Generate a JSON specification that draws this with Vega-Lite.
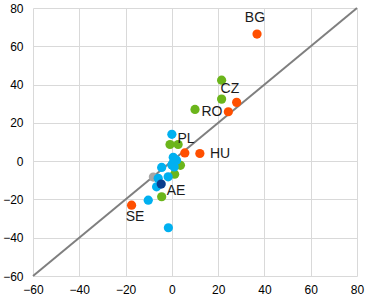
{
  "$schema": "https://vega.github.io/schema/vega-lite/v6.json",
  "width": 324,
  "height": 268,
  "autosize": {"type": "none"},
  "padding": {"left": 33, "top": 8, "right": 31, "bottom": 26},
  "background": "white",
  "config": {
    "view": {"stroke": null},
    "font": "Liberation Sans",
    "axis": {
      "grid": true, "gridColor": "#d9d9d9", "gridWidth": 1, "domain": false, "ticks": false,
      "labelFont": "Liberation Sans", "labelFontSize": 12, "labelColor": "#000000", "title": null,
      "labelOverlap": false, "labelFlush": false, "labelBound": false
    }
  },
  "datasets": {
    "pts": [
      {"g": "gray", "x": -8, "y": -8.3},
      {"g": "orange", "x": 36.8, "y": 66.4},
      {"g": "orange", "x": 28, "y": 30.7},
      {"g": "orange", "x": 24.4, "y": 25.8},
      {"g": "orange", "x": 5.6, "y": 4.3},
      {"g": "orange", "x": 12.1, "y": 4},
      {"g": "orange", "x": -17.4, "y": -23},
      {"g": "green", "x": 21.5, "y": 42.3},
      {"g": "green", "x": 21.5, "y": 32.4},
      {"g": "green", "x": 10, "y": 27},
      {"g": "green", "x": -0.8, "y": 8.7},
      {"g": "green", "x": 2.7, "y": 8.7},
      {"g": "green", "x": 3.7, "y": -2.2},
      {"g": "green", "x": 1.2, "y": -6.8},
      {"g": "green", "x": -4.4, "y": -18.6},
      {"g": "cyan", "x": 0, "y": 14},
      {"g": "cyan", "x": 0.6, "y": 2},
      {"g": "cyan", "x": 2, "y": 0.5},
      {"g": "cyan", "x": 0, "y": -2},
      {"g": "cyan", "x": 0.5, "y": -1},
      {"g": "cyan", "x": -4.4, "y": -3.3},
      {"g": "cyan", "x": 1, "y": -3},
      {"g": "cyan", "x": -1.6, "y": -8.2},
      {"g": "cyan", "x": -5.9, "y": -9},
      {"g": "cyan", "x": -6.6, "y": -13.4},
      {"g": "cyan", "x": -10.2, "y": -20.4},
      {"g": "cyan", "x": -1.5, "y": -34.8},
      {"g": "navy", "x": -4.6, "y": -12}
    ],
    "labels": [
      {"t": "BG", "x": 35.9, "y": 75},
      {"t": "CZ", "x": 25.1, "y": 37.6},
      {"t": "RO", "x": 17.3, "y": 25.6},
      {"t": "PL", "x": 6.1, "y": 11.5},
      {"t": "HU", "x": 20.8, "y": 3.7},
      {"t": "AE", "x": 1.8, "y": -15.7},
      {"t": "SE", "x": -15.9, "y": -29.3}
    ],
    "diag": [
      {"x": -60, "y": -60},
      {"x": 80, "y": 80}
    ]
  },
  "encoding": {
    "x": {"field": "x", "type": "quantitative", "scale": {"domain": [-60, 80], "nice": false}, "axis": {"values": [-60, -40, -20, 0, 20, 40, 60, 80], "labelPadding": 8, "labelOverlap": false}},
    "y": {"field": "y", "type": "quantitative", "scale": {"domain": [-60, 80], "nice": false}, "axis": {"values": [-60, -40, -20, 0, 20, 40, 60, 80], "labelPadding": 10, "labelOverlap": false}}
  },
  "layer": [
    {
      "data": {"name": "diag"},
      "mark": {"type": "line", "color": "#7f7f7f", "strokeWidth": 2}
    },
    {
      "data": {"name": "pts"},
      "mark": {"type": "circle", "size": 85, "opacity": 1},
      "encoding": {
        "color": {
          "field": "g", "type": "nominal", "legend": null,
          "scale": {"domain": ["gray", "orange", "green", "cyan", "navy"], "range": ["#a6a6a6", "#ff4f00", "#6bb51b", "#00b0f0", "#0b3d8c"]}
        }
      }
    },
    {
      "data": {"name": "labels"},
      "mark": {"type": "text", "fontSize": 14, "font": "Liberation Sans", "color": "#1a1a1a", "align": "center", "baseline": "middle"},
      "encoding": {
        "text": {"field": "t"}
      }
    }
  ]
}
